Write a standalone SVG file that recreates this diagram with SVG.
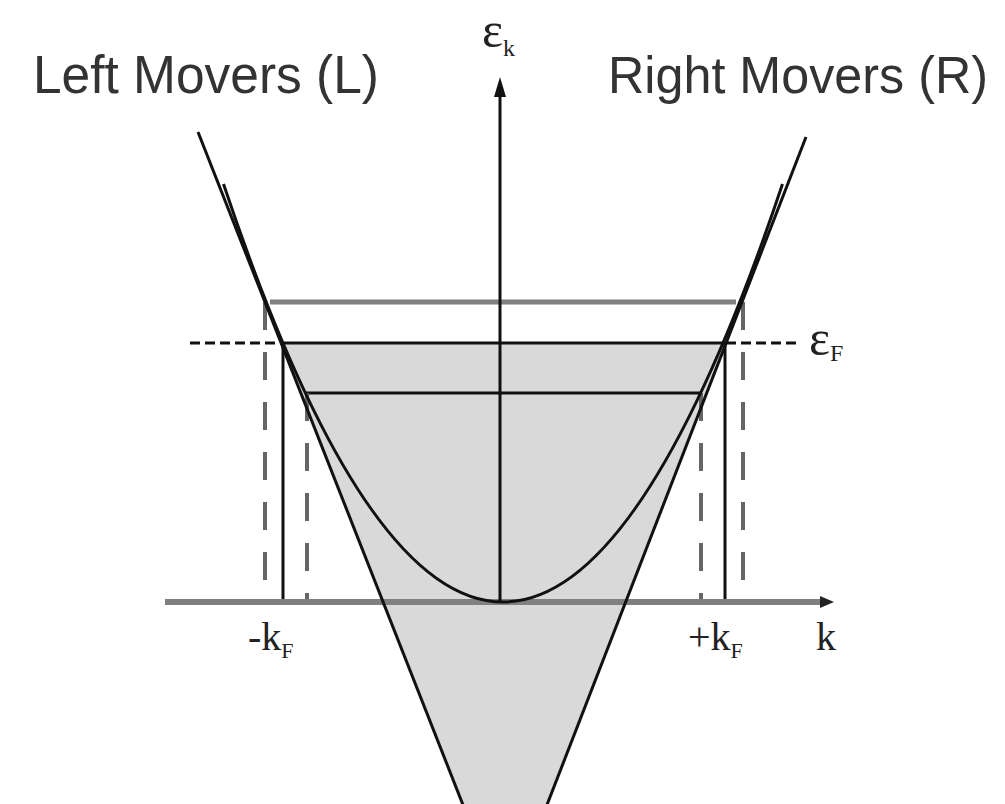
<svg xmlns="http://www.w3.org/2000/svg" width="1005" height="804" viewBox="0 0 1005 804">
<style>
.lbl{font-family:"Liberation Sans",Arial,sans-serif;fill:#333}
.math{font-family:"Liberation Serif","Times New Roman",serif;fill:#222}
.blk{stroke:#111;stroke-width:3;fill:none}
.gry{stroke:#808080;fill:none}
.dashv{stroke:#666;stroke-width:4;stroke-dasharray:28 22;fill:none}
.dashf{stroke:#111;stroke-width:3;stroke-dasharray:10 5;fill:none}
</style>
<rect width="1005" height="804" fill="#ffffff"/>
<g id="filled-region">
<polygon points="281,343 726,343 547,804 463,804" fill="#d9d9d9"/>
</g>
<g id="connectors">
<line id="level-top" class="gry" x1="270" y1="302" x2="736" y2="302" stroke-width="5"/>
<line id="level-fermi" class="blk" x1="281" y1="343" x2="726" y2="343"/>
<line id="level-low" class="blk" x1="305" y1="393" x2="701" y2="393"/>
<line class="dashf" x1="190" y1="343" x2="281" y2="343"/>
<line class="dashf" x1="726" y1="343" x2="798" y2="343"/>
<line class="dashv" x1="265" y1="302" x2="265" y2="600"/>
<line class="dashv" x1="743" y1="302" x2="743" y2="600"/>
<line class="dashv" x1="307" y1="393" x2="307" y2="600" stroke-dasharray="24 26"/>
<line class="dashv" x1="701" y1="393" x2="701" y2="600" stroke-dasharray="24 26"/>
<line class="blk" x1="283" y1="343" x2="283" y2="602"/>
<line class="blk" x1="725" y1="343" x2="725" y2="602"/>
<line class="gry" x1="165" y1="602" x2="824" y2="602" stroke-width="6"/>
<polygon points="834,602 820,596 820,608" fill="#222"/>
<line class="blk" x1="500" y1="602" x2="500" y2="92" stroke-width="2.5"/>
<polygon points="500,77 494,97 506,97" fill="#111"/>
<line class="blk" x1="198" y1="132" x2="465" y2="810"/>
<line class="blk" x1="806" y1="137" x2="545" y2="810"/>
<path class="blk" d="M223.5,183.9 Q503,1020.1 782.5,183.9"/>
</g>
<g id="label-left">
<text class="lbl" x="33" y="93" font-size="54" textLength="346" lengthAdjust="spacingAndGlyphs">Left Movers (L)</text>
</g>
<g id="label-right">
<text class="lbl" x="608" y="93" font-size="52" textLength="380" lengthAdjust="spacingAndGlyphs">Right Movers (R)</text>
</g>
<g id="label-ek">
<text class="math" x="482" y="47" font-size="50">ε<tspan font-size="24" dy="9">k</tspan></text>
</g>
<g id="label-ef">
<text class="math" x="809" y="355" font-size="50">ε<tspan font-size="24" dy="6">F</tspan></text>
</g>
<g id="label-mkf">
<text class="math" x="248" y="650" font-size="40">-k<tspan font-size="22" dy="8">F</tspan></text>
</g>
<g id="label-pkf">
<text class="math" x="688" y="650" font-size="40">+k<tspan font-size="22" dy="8">F</tspan></text>
</g>
<g id="label-k">
<text class="math" x="816" y="650" font-size="40">k</text>
</g>
</svg>
